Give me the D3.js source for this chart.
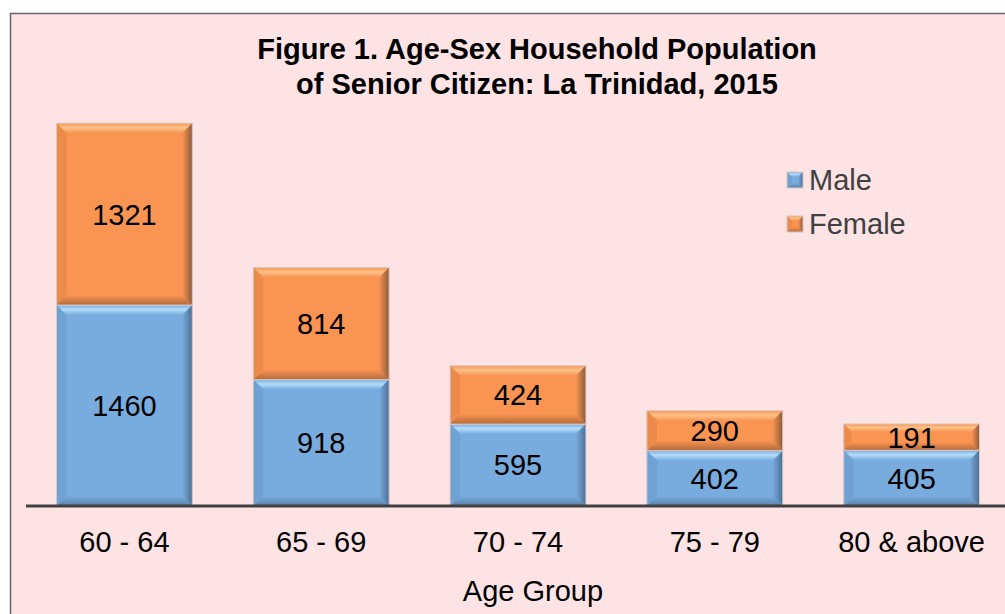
<!DOCTYPE html>
<html>
<head>
<meta charset="utf-8">
<script src="https://cdn.jsdelivr.net/npm/d3@7"></script>
<style>
  body { margin: 0; background: #fff; }
  svg { display: block; font-family: "Liberation Sans", Arial, sans-serif; }
</style>
</head>
<body>
<svg id="chart" width="1005" height="614"></svg>
<script>
const categories = ["60 - 64", "65 - 69", "70 - 74", "75 - 79", "80 & above"];
const male = [1460, 918, 595, 402, 405];
const female = [1321, 814, 424, 290, 191];
const seriesNames = ["Male", "Female"];

const palettes = {
  Male:   { main: "#78acde", top: "#b2dcfa", left: "#6fa2d3", right: "#4c6f94", bottom: "#5a82ab" },
  Female: { main: "#f99452", top: "#fdc289", left: "#ec8a4a", right: "#8c5a38", bottom: "#b36a3a" }
};

const svg = d3.select("#chart");

// background panel
svg.append("rect").attr("x", 10.5).attr("y", 13.5).attr("width", 1010).attr("height", 620)
  .attr("fill", "#fde3e4").attr("stroke", "#666").attr("stroke-width", 1.5);

// title
const title = svg.append("text").attr("text-anchor", "middle").attr("font-weight", "bold")
  .attr("font-size", 29).attr("fill", "#000");
title.append("tspan").attr("x", 537).attr("y", 59).text("Figure 1. Age-Sex Household Population");
title.append("tspan").attr("x", 537).attr("y", 94).text("of Senior Citizen: La Trinidad, 2015");

const x = d3.scaleBand().domain(categories).range([26, 1010]).paddingInner(0.31).paddingOuter(0.155);
const y = d3.scaleLinear().domain([0, 3000]).range([506, 93]);

const rows = categories.map((c, i) => ({ cat: c, Male: male[i], Female: female[i] }));
const stacked = d3.stack().keys(seriesNames)(rows);

// gradients
const defs = svg.append("defs");
seriesNames.forEach(k => {
  const pal = palettes[k];
  pal.id = k;
  const gt = defs.append("linearGradient").attr("id", "top-" + k).attr("x1", 0).attr("y1", 0).attr("x2", 0).attr("y2", 1);
  gt.append("stop").attr("offset", "0%").attr("stop-color", pal.main);
  gt.append("stop").attr("offset", "45%").attr("stop-color", pal.top);
  gt.append("stop").attr("offset", "100%").attr("stop-color", pal.main);
  const gr = defs.append("linearGradient").attr("id", "right-" + k).attr("x1", 0).attr("y1", 0).attr("x2", 1).attr("y2", 0);
  gr.append("stop").attr("offset", "0%").attr("stop-color", pal.main);
  gr.append("stop").attr("offset", "100%").attr("stop-color", pal.right);
  const gb = defs.append("linearGradient").attr("id", "bottom-" + k).attr("x1", 0).attr("y1", 0).attr("x2", 0).attr("y2", 1);
  gb.append("stop").attr("offset", "0%").attr("stop-color", pal.main);
  gb.append("stop").attr("offset", "100%").attr("stop-color", pal.bottom);
});

function bevel(g, x0, y0, x1, y1, pal, bmax) {
  const h = y1 - y0, w = x1 - x0;
  const b = Math.min(bmax, h * 0.3, w * 0.3);
  g.append("rect").attr("x", x0).attr("y", y0).attr("width", w).attr("height", h).attr("fill", pal.main);
  const poly = (pts, fill) => g.append("polygon").attr("points", pts.map(p => p.join(",")).join(" ")).attr("fill", fill);
  poly([[x0, y0], [x1, y0], [x1 - b, y0 + b], [x0 + b, y0 + b]], "url(#top-" + pal.id + ")");
  poly([[x0, y1], [x1, y1], [x1 - b, y1 - b], [x0 + b, y1 - b]], "url(#bottom-" + pal.id + ")");
  poly([[x0, y0], [x0 + b, y0 + b], [x0 + b, y1 - b], [x0, y1]], pal.left);
  poly([[x1, y0], [x1 - b, y0 + b], [x1 - b, y1 - b], [x1, y1]], "url(#right-" + pal.id + ")");
  g.append("rect").attr("x", x0).attr("y", y0).attr("width", w).attr("height", h)
    .attr("fill", "none").attr("stroke", "#d8c8c8").attr("stroke-width", 1);
}

// bars
stacked.forEach(series => {
  const pal = palettes[series.key];
  series.forEach(d => {
    const g = svg.append("g");
    const x0 = x(d.data.cat), x1 = x0 + x.bandwidth();
    const y0 = y(d[1]), y1 = y(d[0]);
    bevel(g, x0, y0, x1, y1, pal, 10);
    svg.append("text").attr("x", (x0 + x1) / 2).attr("y", (y0 + y1) / 2)
      .attr("dy", "0.36em").attr("text-anchor", "middle").attr("font-size", 29).attr("fill", "#000")
      .text(d[1] - d[0]);
  });
});

// axis
const axis = svg.append("g").attr("transform", "translate(0,506)")
  .call(d3.axisBottom(x).tickSize(0).tickPadding(25));
axis.select(".domain").attr("d", "M26,0H1005").attr("stroke", "#404040").attr("stroke-width", 3);
axis.selectAll(".tick text").attr("font-size", 29).attr("fill", "#000")
  .attr("font-family", "Liberation Sans, Arial, sans-serif");

svg.append("text").attr("x", 533).attr("y", 601).attr("text-anchor", "middle")
  .attr("font-size", 29).attr("fill", "#000").text("Age Group");

// legend
const legend = svg.append("g");
seriesNames.forEach((k, i) => {
  const ly = 172 + i * 44;
  bevel(legend, 787, ly, 803, ly + 16, palettes[k], 5);
  legend.append("text").attr("x", 809).attr("y", ly + 8).attr("dy", "0.36em")
    .attr("font-size", 29).attr("fill", "#404040").text(k);
});
</script>
</body>
</html>
